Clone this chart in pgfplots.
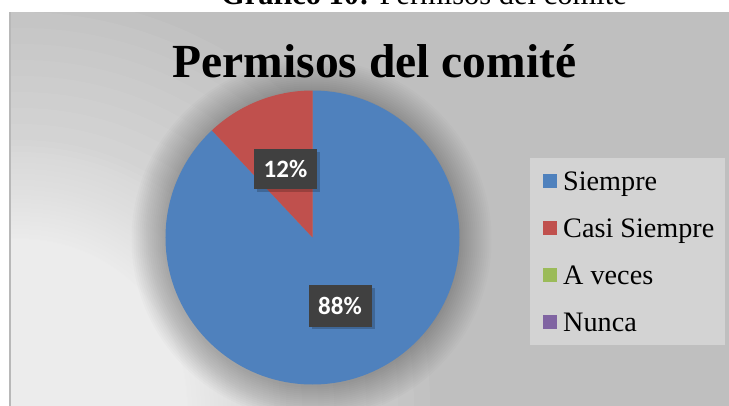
\documentclass[border=0pt]{standalone}
\usepackage{pgfplots}
\pgfplotsset{compat=1.18}
\usepackage{pgfplotstable}
\usepackage{fontspec}
\setmainfont{Liberation Serif}
\newfontfamily\calfont{Carlito}
\definecolor{cblue}{HTML}{4F81BD}
\definecolor{cred}{HTML}{C0504D}
\definecolor{cgreen}{HTML}{9BBB59}
\definecolor{cpurple}{HTML}{8064A2}
\definecolor{bggray}{HTML}{BFBFBF}
\definecolor{leggray}{HTML}{D3D3D3}
\definecolor{labgray}{HTML}{404040}

% data: value of each category (percent)
\pgfplotstableread{
cat value
Siempre 88
CasiSiempre 12
AVeces 0
Nunca 0
}\piedata

\begin{document}
\begin{tikzpicture}
\useasboundingbox (0,0) rectangle (729bp,406bp);
\pgfplotstablegetelem{0}{value}\of\piedata \let\valA\pgfplotsretval
\pgfplotstablegetelem{1}{value}\of\piedata \let\valB\pgfplotsretval
\pgfmathsetmacro\angA{90-3.6*\valA}
\pgfmathsetmacro\angB{\angA-3.6*\valB}
% chart area background: gray with a white glow in the lower left
\begin{scope}
  \clip (9bp,0) rectangle (729bp,394bp);
  \fill[bggray] (9bp,0) rectangle (729bp,394bp);
  \foreach \r in {410,394,378,362,346,330,314,298,282,266,260,254,249,243,237,232,226,220,216,211,207,203,198,194,190,185,181,177,172,168,167,...,143,141,139,...,121}
    \fill[white, opacity=0.05] (20bp,0) circle[radius=\r bp];
\end{scope}
\draw[color=black!28, line width=2bp] (9.5bp,0) -- (9.5bp,394bp);
\begin{axis}[x=1bp, y=1bp, xmin=0, xmax=729, ymin=0, ymax=406,
  hide axis, clip=false, at={(0,0)}, anchor=origin]
% caption (cut off at the top, as in the source)
\begin{scope}
  \clip (axis cs:0,0) rectangle (axis cs:729,406);
  \node[anchor=base, font=\fontsize{30.5bp}{32bp}\selectfont, inner sep=0] at (axis cs:424,401)
    {\textbf{Gráfico 10:} Permisos del comité};
\end{scope}
% title
\node[anchor=base, font=\bfseries\fontsize{47.5bp}{48bp}\selectfont, inner sep=0] at (axis cs:374.5,328)
  {Permisos del comité};
% pie halo
\pgfplotsinvokeforeach{148,150,...,180}{
  \fill[black, opacity=0.016] (axis cs:311.5,166.5) circle[radius=#1bp];
}
% pie slices from the table
\fill[cblue] (axis cs:312.5,168.5) -- ++(90:147bp) arc[start angle=90, end angle=\angA, radius=147bp] -- cycle;
\fill[cred] (axis cs:312.5,168.5) -- ++(\angA:147bp) arc[start angle=\angA, end angle=\angB, radius=147bp] -- cycle;
% data labels
\fill[black, opacity=0.2] (axis cs:257,214) rectangle (axis cs:320,254);
\node[fill=labgray, text=white, font=\calfont\bfseries\fontsize{25bp}{25bp}\selectfont,
  minimum width=63bp, minimum height=40bp, inner sep=0] at (axis cs:285.5,237) {12\%};
\fill[black, opacity=0.2] (axis cs:311.5,76.5) rectangle (axis cs:374.5,117.5);
\node[fill=labgray, text=white, font=\calfont\bfseries\fontsize{25bp}{25bp}\selectfont,
  minimum width=63bp, minimum height=41bp, inner sep=0] at (axis cs:340,100) {88\%};
% legend
\fill[leggray] (axis cs:530,61) rectangle (axis cs:725,248);
\fill[cblue] (axis cs:543,218) rectangle (axis cs:557,232);
\fill[cred] (axis cs:543,171) rectangle (axis cs:557,185);
\fill[cgreen] (axis cs:543,124) rectangle (axis cs:557,138);
\fill[cpurple] (axis cs:543,77) rectangle (axis cs:557,91);
\node[anchor=base west, inner sep=0, font=\fontsize{28.2bp}{30bp}\selectfont] at (axis cs:563,215) {Siempre};
\node[anchor=base west, inner sep=0, font=\fontsize{28.2bp}{30bp}\selectfont] at (axis cs:563,168) {Casi Siempre};
\node[anchor=base west, inner sep=0, font=\fontsize{28.2bp}{30bp}\selectfont] at (axis cs:563,121) {A veces};
\node[anchor=base west, inner sep=0, font=\fontsize{28.2bp}{30bp}\selectfont] at (axis cs:563,74) {Nunca};
\end{axis}
\end{tikzpicture}
\end{document}
